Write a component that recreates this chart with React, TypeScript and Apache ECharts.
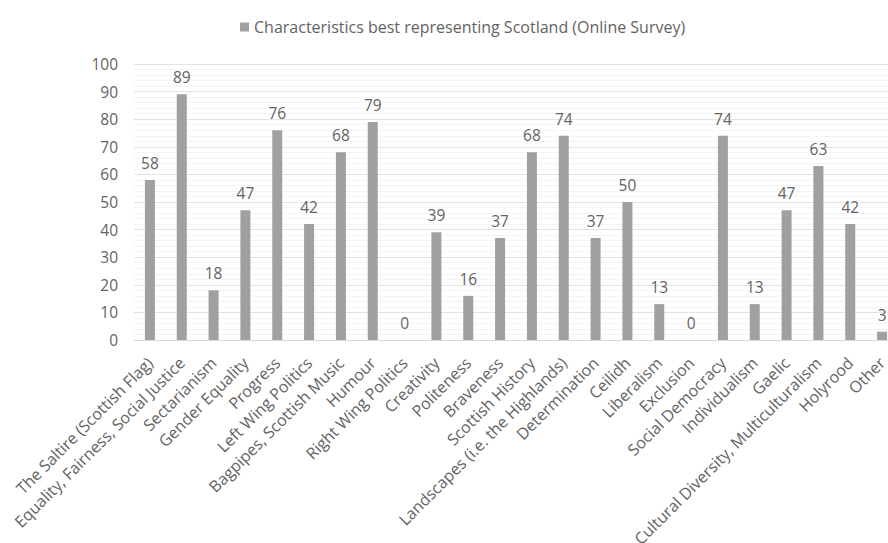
import React, { useEffect, useRef } from "react";
import * as echarts from "echarts";

const seriesName = "Characteristics best representing Scotland (Online Survey)";
const categories = [
  "The Saltire (Scottish Flag)",
  "Equality, Fairness, Social Justice",
  "Sectarianism",
  "Gender Equality",
  "Progress",
  "Left Wing Politics",
  "Bagpipes, Scottish Music",
  "Humour",
  "Right Wing Politics",
  "Creativity",
  "Politeness",
  "Braveness",
  "Scottish History",
  "Landscapes (i.e. the Highlands)",
  "Determination",
  "Ceilidh",
  "Liberalism",
  "Exclusion",
  "Social Democracy",
  "Individualism",
  "Gaelic",
  "Cultural Diversity, Multiculturalism",
  "Holyrood",
  "Other",
];
const values = [58, 89, 18, 47, 76, 42, 68, 79, 0, 39, 16, 37, 68, 74, 37, 50, 13, 0, 74, 13, 47, 63, 42, 3];
const yTicks = { min: 0, max: 100, interval: 10 };

export default function App() {
  const ref = useRef<HTMLDivElement>(null);
  useEffect(() => {
    if (!ref.current) return;
    const chart = echarts.init(ref.current, null, { renderer: "svg" });
    const font = "'Open Sans', 'Liberation Sans', sans-serif";
    const textColor = "#636363";
    chart.setOption({
      animation: false,
      backgroundColor: "#ffffff",
      textStyle: { fontFamily: font },
      legend: {
        show: true,
        left: 235,
        top: 14,
        itemWidth: 9,
        itemHeight: 9,
        itemGap: 6,
        icon: "rect",
        textStyle: { fontFamily: font, fontSize: 16, color: textColor },
        data: [seriesName],
      },
      grid: {
        left: 134,
        right: -10,
        top: 64,
        bottom: 203,
        containLabel: false,
        outerBoundsMode: "none",
      },
      xAxis: {
        type: "category",
        data: categories,
        axisLine: { show: true, lineStyle: { color: "#d9d9d9", width: 1 } },
        axisTick: { show: false },
        axisLabel: {
          interval: 0,
          rotate: 45,
          margin: 20,
          fontFamily: font,
          fontSize: 16,
          color: textColor,
        },
      },
      yAxis: {
        type: "value",
        min: yTicks.min,
        max: yTicks.max,
        interval: yTicks.interval,
        axisLine: { show: false },
        axisTick: { show: false },
        axisLabel: { fontFamily: font, fontSize: 15.5, color: textColor, margin: 16 },
        splitLine: { show: true, lineStyle: { color: "#e3e3e3", width: 1 } },
        minorTick: { show: false, splitNumber: 5 },
        minorSplitLine: { show: true, lineStyle: { color: "#f4f4f4", width: 1 } },
      },
      series: [
        {
          name: seriesName,
          type: "bar",
          data: values,
          barWidth: 10,
          itemStyle: { color: "#a0a0a0" },
          label: {
            show: true,
            position: "top",
            distance: 9,
            fontFamily: font,
            fontSize: 15.5,
            color: textColor,
          },
        },
      ],
    });
    return () => chart.dispose();
  }, []);
  return (
    <div
      ref={ref}
      style={{ position: "fixed", left: 0, top: 0, width: 888, height: 543, background: "#fff" }}
    />
  );
}
